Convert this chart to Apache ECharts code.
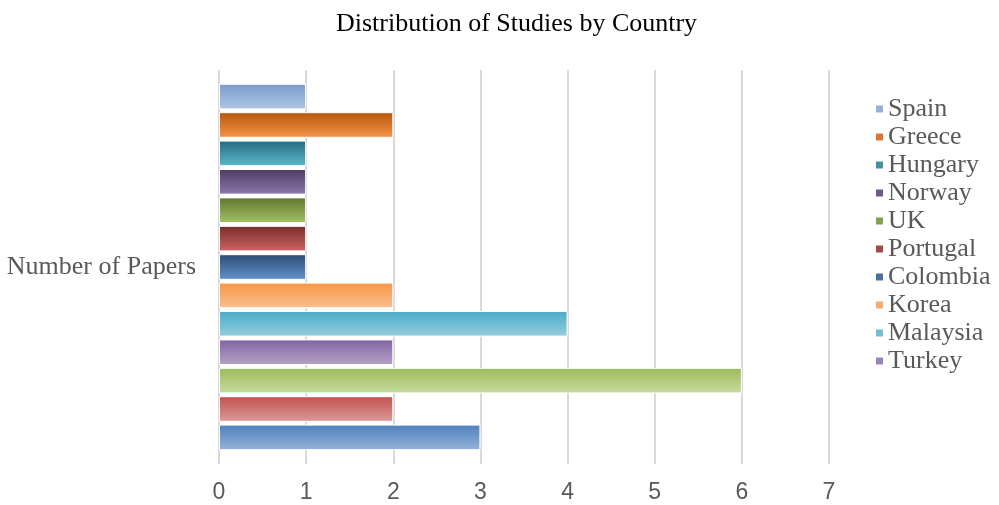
<!DOCTYPE html>
<html>
<head>
<meta charset="utf-8">
<script src="https://cdn.jsdelivr.net/npm/echarts@6/dist/echarts.min.js"></script>
<style>
html,body{margin:0;padding:0;background:#fff;}
#chart{width:999px;height:505px;}
</style>
</head>
<body>
<div id="chart"></div>
<script>
// Data (series listed top bar first; the last three are not named in the visible legend)
const categories = ['Number of Papers'];
const seriesNames = ['Spain', 'Greece', 'Hungary', 'Norway', 'UK', 'Portugal', 'Colombia', 'Korea', 'Malaysia', 'Turkey', 'Series 3', 'Series 2', 'Series 1'];
const seriesValues = [1, 2, 1, 1, 1, 1, 1, 2, 4, 2, 6, 2, 3];
const legendNames = ['Spain', 'Greece', 'Hungary', 'Norway', 'UK', 'Portugal', 'Colombia', 'Korea', 'Malaysia', 'Turkey'];
const xTicks = [0, 1, 2, 3, 4, 5, 6, 7];

// Styles
const topColors = ['#7a9ccc', '#b65708', '#276a7c', '#4d3b62', '#5f7530', '#772c2a', '#2c4d75', '#f79646', '#4bacc6', '#8064a2', '#9bbb59', '#c0504d', '#4f81bd'];
const bottomColors = ['#b0c6e2', '#f7954a', '#5cb8cc', '#8e78ad', '#a5c266', '#cd6563', '#6490cc', '#fac090', '#93cddd', '#b3a2c7', '#c8dba0', '#dc9a98', '#95b3d7'];
const midColors = ['#95b1d7', '#e0762a', '#4192a5', '#6e5888', '#85a04b', '#a24846', '#4a70a2', '#f9ab6b', '#70bed2', '#9a84b6', '#b1cb7d', '#ce7573', '#729acb'];

const series = seriesNames.map((name, i) => ({
  name: name,
  type: 'bar',
  data: [seriesValues[i]],
  barCategoryGap: '7%',
  barGap: '11%',
  itemStyle: {
    color: new echarts.graphic.LinearGradient(0, 0, 0, 1, [
      { offset: 0, color: topColors[i] },
      { offset: 1, color: bottomColors[i] }
    ]),
    borderColor: '#ffffff',
    borderWidth: 1
  }
}));

const chart = echarts.init(document.getElementById('chart'), null, { renderer: 'canvas' });
chart.setOption({
  animation: false,
  backgroundColor: '#ffffff',
  title: {
    text: 'Distribution of Studies by Country',
    left: 331,
    top: 6,
    textStyle: { fontFamily: 'Liberation Serif', fontSize: 26, fontWeight: 'normal', color: '#000000' }
  },
  legend: {
    orient: 'vertical',
    left: 869,
    top: 91,
    icon: 'rect',
    itemWidth: 9,
    itemHeight: 9,
    itemGap: 2,
    textStyle: { fontFamily: 'Liberation Serif', fontSize: 26, color: '#595959', lineHeight: 26, padding: [0, 0, 0, -1] },
    data: legendNames.map(n => ({ name: n, itemStyle: { color: midColors[seriesNames.indexOf(n)] } }))
  },
  grid: { left: 219, right: 170, top: 70, bottom: 41, containLabel: false },
  xAxis: {
    type: 'value',
    min: xTicks[0],
    max: xTicks[xTicks.length - 1],
    interval: 1,
    axisLine: { show: false },
    axisTick: { show: false },
    axisLabel: { fontFamily: 'Liberation Sans', fontSize: 23, color: '#595959', margin: 17 },
    splitLine: { show: true, lineStyle: { color: '#d9d9d9', width: 2 } }
  },
  yAxis: {
    type: 'category',
    data: categories,
    axisLine: { show: false },
    axisTick: { show: false },
    axisLabel: { fontFamily: 'Liberation Serif', fontSize: 26, color: '#595959', margin: 23 }
  },
  series: series
});
</script>
</body>
</html>
